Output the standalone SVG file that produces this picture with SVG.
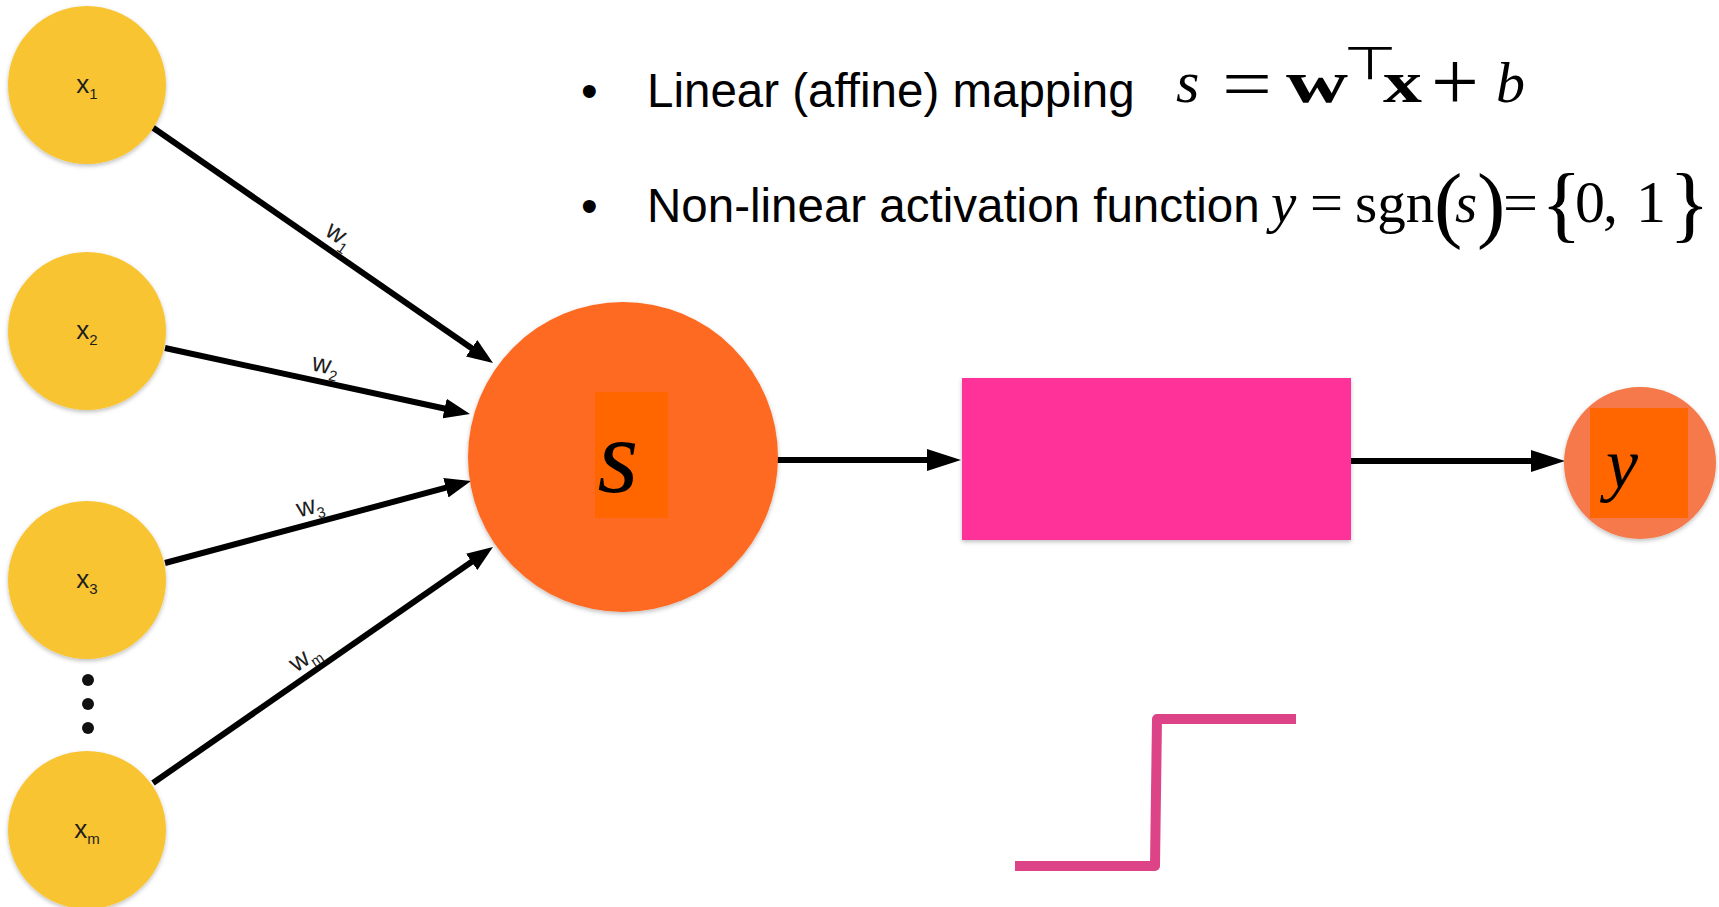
<svg xmlns="http://www.w3.org/2000/svg" width="1719" height="907" viewBox="0 0 1719 907">
  <style>
    .inp { fill: #F9C431; }
    .lbl { font-family: "Liberation Sans", Arial, sans-serif; font-size: 26px; fill: #1e1e1e; }
    .sub { font-size: 15px; }
    .wire { stroke: #000; stroke-width: 6; fill: none; }
    .body { font-family: "Liberation Sans", Arial, sans-serif; font-size: 47.5px; fill: #000; }
    .cm { font-family: "Liberation Serif", "Times New Roman", serif; font-size: 60px; fill: #000; }
    .tm { font-family: "Liberation Serif", "Times New Roman", serif; font-size: 57px; fill: #000; }
    .cm.eq { font-size: 72px; }
    .cm.plus { font-size: 85px; }
    .cm.b { font-size: 58px; }
    .tm.big { font-size: 85px; }
    .tm.dg { font-size: 60px; }
    .it { font-style: italic; }
    .bf { font-weight: bold; }
  </style>
  <defs>
    <filter id="shadow" x="-10%" y="-10%" width="120%" height="125%">
      <feDropShadow dx="0" dy="2" stdDeviation="2" flood-color="#000" flood-opacity="0.25"/>
    </filter>
    <marker id="headSmall" viewBox="0 0 26 20" refX="8" refY="10" markerWidth="26" markerHeight="20" markerUnits="userSpaceOnUse" orient="auto">
      <path d="M0,0 L26,10 L0,20 Z" fill="#000"/>
    </marker>
    <marker id="headBig" viewBox="0 0 34 22" refX="10" refY="11" markerWidth="34" markerHeight="22" markerUnits="userSpaceOnUse" orient="auto">
      <path d="M0,0 L34,11 L0,22 Z" fill="#000"/>
    </marker>
  </defs>

  <rect width="1719" height="907" fill="#fff"/>

  <!-- bullet text with formulas -->
  <g id="notes">
    <text class="body" x="581" y="107">•</text>
    <text class="body" x="647" y="107">Linear (affine) mapping</text>
    <text class="cm it" x="1176" y="102">s</text>
    <text class="cm eq" x="1222" y="108" textLength="50" lengthAdjust="spacingAndGlyphs">=</text>
    <text class="cm bf" x="1286" y="102" textLength="62" lengthAdjust="spacingAndGlyphs">w</text>
    <text transform="translate(1370,79) scale(1.35,1)" text-anchor="middle" font-family="DejaVu Sans, sans-serif" font-size="46">⊤</text>
    <text class="cm bf" x="1383" y="102" textLength="39" lengthAdjust="spacingAndGlyphs">x</text>
    <text class="cm plus" x="1431" y="110">+</text>
    <text class="cm it b" x="1496" y="102">b</text>

    <text class="body" x="581" y="222">•</text>
    <text class="body" x="647" y="222">Non-linear activation function</text>
    <text class="tm it" x="1271" y="222">y</text>
    <text class="tm" x="1310" y="222" textLength="33" lengthAdjust="spacingAndGlyphs">=</text>
    <text class="tm" x="1355" y="222">sgn</text>
    <text class="tm big" x="1434" y="232">(</text>
    <text class="tm it" x="1455" y="222">s</text>
    <text class="tm big" x="1477" y="232">)</text>
    <text class="tm" x="1503" y="222" textLength="35" lengthAdjust="spacingAndGlyphs">=</text>
    <text class="tm big" x="1541" y="232">{</text>
    <text class="tm dg" x="1575" y="222">0</text>
    <text class="tm dg" x="1603" y="222">,</text>
    <text class="tm dg" x="1636" y="222">1</text>
    <text class="tm big" x="1669" y="232">}</text>
  </g>

  <!-- connectors -->
  <g id="connectors">
    <line class="wire" x1="152" y1="127" x2="478.2" y2="352.8" marker-end="url(#headSmall)"/>
    <line class="wire" x1="165" y1="348" x2="452.4" y2="410.2" marker-end="url(#headSmall)"/>
    <line class="wire" x1="165" y1="563" x2="453.6" y2="485.7" marker-end="url(#headSmall)"/>
    <line class="wire" x1="153" y1="783" x2="478.2" y2="557.3" marker-end="url(#headSmall)"/>
    <line class="wire" x1="776" y1="460" x2="937" y2="460" marker-end="url(#headBig)"/>
    <line class="wire" x1="1351" y1="461" x2="1541" y2="461" marker-end="url(#headBig)"/>

    <text class="lbl" transform="translate(335,242) rotate(34.7)" text-anchor="middle">w<tspan class="sub" dy="6">1</tspan></text>
    <text class="lbl" transform="translate(324,373) rotate(12.2)" text-anchor="middle">w<tspan class="sub" dy="6">2</tspan></text>
    <text class="lbl" transform="translate(312,514) rotate(-15)" text-anchor="middle">w<tspan class="sub" dy="6">3</tspan></text>
    <text class="lbl" transform="translate(309,664) rotate(-34.8)" text-anchor="middle">w<tspan class="sub" dy="6">m</tspan></text>
  </g>

  <!-- inputs -->
  <g id="x1">
    <circle class="inp" cx="87" cy="85" r="79" filter="url(#shadow)"/>
    <text class="lbl" x="87" y="93" text-anchor="middle">x<tspan class="sub" dy="6">1</tspan></text>
  </g>
  <g id="x2">
    <circle class="inp" cx="87" cy="331" r="79" filter="url(#shadow)"/>
    <text class="lbl" x="87" y="339" text-anchor="middle">x<tspan class="sub" dy="6">2</tspan></text>
  </g>
  <g id="x3">
    <circle class="inp" cx="87" cy="580" r="79" filter="url(#shadow)"/>
    <text class="lbl" x="87" y="588" text-anchor="middle">x<tspan class="sub" dy="6">3</tspan></text>
  </g>
  <g id="dots">
    <circle cx="88" cy="680" r="6" fill="#111"/>
    <circle cx="88" cy="704" r="6" fill="#111"/>
    <circle cx="88" cy="728" r="6" fill="#111"/>
  </g>
  <g id="xm">
    <circle class="inp" cx="87" cy="830" r="79" filter="url(#shadow)"/>
    <text class="lbl" x="87" y="838" text-anchor="middle">x<tspan class="sub" dy="6">m</tspan></text>
  </g>

  <!-- weighted sum -->
  <g id="sum">
    <circle cx="623" cy="457" r="155" fill="#FE6A23" filter="url(#shadow)"/>
    <rect x="595" y="392" width="73" height="126" fill="#FF6600"/>
    <text x="618" y="492" text-anchor="middle" font-family="Liberation Serif, serif" font-style="italic" font-size="105">s</text>
  </g>

  <!-- activation -->
  <g id="activation">
    <rect x="962" y="378" width="389" height="162" fill="#FF3399" filter="url(#shadow)"/>
  </g>

  <!-- output -->
  <g id="output">
    <circle cx="1640" cy="463" r="76" fill="#F5794B" filter="url(#shadow)"/>
    <rect x="1590" y="408" width="98" height="110" fill="#FF6600"/>
    <text x="1622" y="488" text-anchor="middle" font-family="Liberation Serif, serif" font-style="italic" font-size="72">y</text>
  </g>

  <!-- step function -->
  <g id="step">
    <path d="M1015,866 L1155,866 L1157,719 L1296,719" fill="none" stroke="#DD4488" stroke-width="10" stroke-linejoin="round"/>
  </g>
</svg>
